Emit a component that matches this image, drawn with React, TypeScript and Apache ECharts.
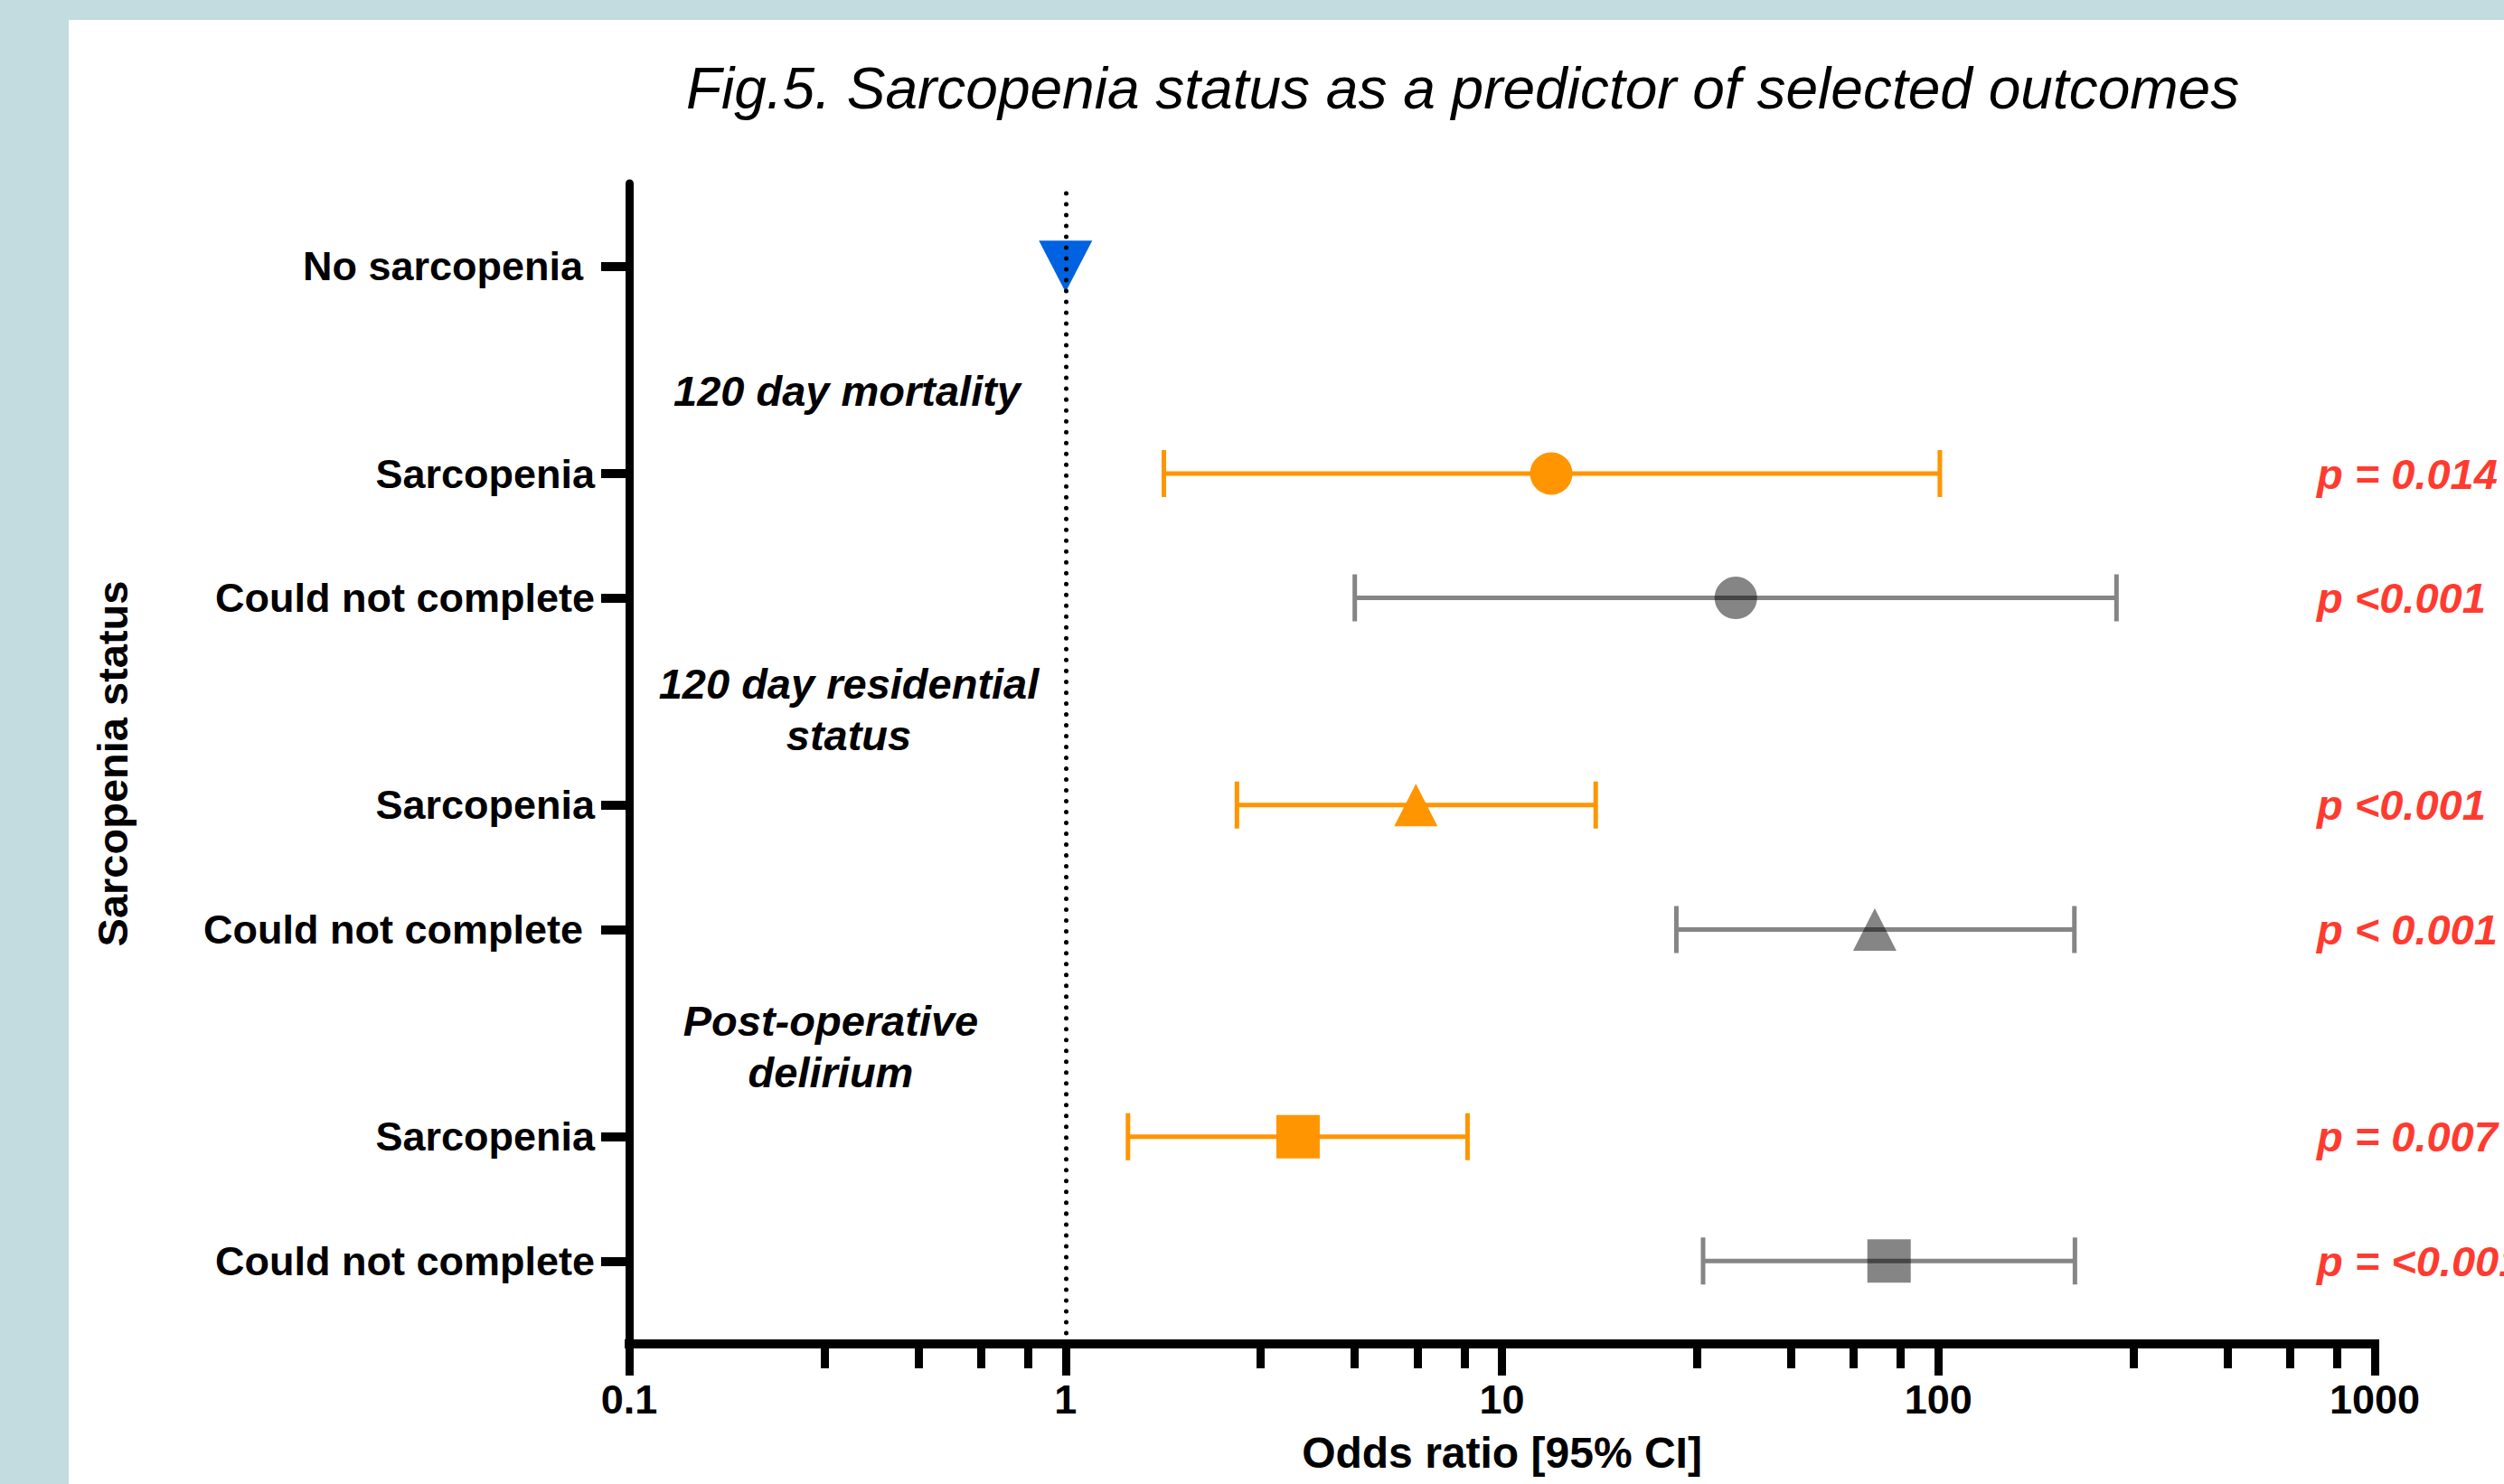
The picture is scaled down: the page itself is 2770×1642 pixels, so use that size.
import React, { useEffect, useRef } from 'react';
import * as echarts from 'echarts';

// ---------- data ----------
const rowLabels = ['No sarcopenia', 'Sarcopenia', 'Could not complete', 'Sarcopenia', 'Could not complete', 'Sarcopenia', 'Could not complete'];
const rowPositions = [26, 21, 18, 13, 10, 5, 2];
const oddsRatio = [1, 12.97, 34.35, 6.35, 71.5, 3.41, 77.1];
const ciLower = [null, 1.68, 4.6, 2.47, 25.1, 1.39, 28.9];
const ciUpper = [null, 100.8, 256, 16.4, 205, 8.34, 205.6];
const pValueLabels = [null, 'p = 0.014', 'p <0.001', 'p <0.001', 'p < 0.001', 'p = 0.007', 'p = <0.001'];
const groupLabels = ['120 day mortality', '120 day residential\nstatus', 'Post-operative\ndelirium'];
const xTickValues = [0.1, 1, 10, 100, 1000];
const xTickLabels = ['0.1', '1', '10', '100', '1000'];
const minorTickFactors = [2.8, 4.6, 6.4, 8.2];
const yRange = [0, 28];
const titleText = 'Fig.5. Sarcopenia status as a predictor of selected outcomes';
const xAxisTitle = 'Odds ratio [95% CI]';
const yAxisTitle = 'Sarcopenia status';

// ---------- styles ----------
const W = 2770;
const H = 1642;
const FONT = '"Liberation Sans", Arial, Helvetica, sans-serif';
const ORANGE = '#FF9500';
const GREY = 'rgba(0,0,0,0.48)';
const BLUE = '#0062E0';
const RED = '#FF3B30';
const BG = '#C2DCDF';
const rowStyles = [
  { symbol: 'triangle', rotate: 180, size: [59, 57], color: BLUE, labelPad: 13 },
  { symbol: 'circle', rotate: 0, size: 47, color: ORANGE, labelPad: 0 },
  { symbol: 'circle', rotate: 0, size: 47, color: GREY, labelPad: 0 },
  { symbol: 'triangle', rotate: 0, size: [48, 47], color: ORANGE, labelPad: 0 },
  { symbol: 'triangle', rotate: 0, size: [48, 47], color: GREY, labelPad: 13 },
  { symbol: 'rect', rotate: 0, size: 48, color: ORANGE, labelPad: 0 },
  { symbol: 'rect', rotate: 0, size: 48, color: GREY, labelPad: 0 },
];
const groupLabelPos = [
  { x: 937, y: 432 },
  { x: 939, y: 785 },
  { x: 919, y: 1158 },
];
const GRID = { left: 696, top: 203, width: 1931, height: 1284 };

export default function App() {
  const ref = useRef<HTMLDivElement>(null);

  useEffect(() => {
    document.body.style.margin = '0';
    document.body.style.overflow = 'hidden';
    const chart = echarts.init(ref.current!, null, { renderer: 'svg', width: W, height: H });

    const minorTicks: number[] = [];
    for (let i = 0; i < xTickValues.length - 1; i++) {
      minorTickFactors.forEach((f) => minorTicks.push(xTickValues[i] * f));
    }

    const errData = rowPositions
      .map((pos, i) => (ciLower[i] != null ? [ciLower[i], ciUpper[i], pos, i] : null))
      .filter(Boolean);

    const markerData = rowPositions.map((pos, i) => ({
      value: [oddsRatio[i], pos],
      symbol: rowStyles[i].symbol,
      symbolSize: rowStyles[i].size,
      symbolRotate: rowStyles[i].rotate,
      itemStyle: { color: rowStyles[i].color, opacity: 1 },
    }));

    const rich: any = {
      n: { fontFamily: FONT, fontWeight: 'bold', fontSize: 45, color: '#000' },
      p: { fontFamily: FONT, fontWeight: 'bold', fontSize: 45, color: '#000', padding: [0, 13, 0, 0] },
    };

    const xLabelFormatter = (v: number) => {
      const i = xTickValues.findIndex((t) => Math.abs(Math.log10(t) - Math.log10(v)) < 1e-6);
      return i >= 0 ? xTickLabels[i] : '';
    };

    const baseGraphics: any[] = [
      {
        id: 'panel', type: 'rect', z: -100, silent: true,
        shape: { x: 76, y: 22, width: W - 76, height: H - 22 },
        style: { fill: '#ffffff' },
      },
      {
        id: 'title', type: 'text', x: 1618, y: 98, z: 10,
        style: {
          text: titleText, fontFamily: FONT, fontStyle: 'italic', fontWeight: 'normal',
          fontSize: 64, fill: '#000', align: 'center', verticalAlign: 'middle',
        },
      },
      ...groupLabels.map((t, i) => ({
        id: 'group' + i, type: 'text', x: groupLabelPos[i].x, y: groupLabelPos[i].y, z: 10,
        style: {
          text: t, fontFamily: FONT, fontStyle: 'italic', fontWeight: 'bold', fontSize: 47,
          lineHeight: 57, fill: '#000', align: 'center', verticalAlign: 'middle',
        },
      })),
    ];

    const option: any = {
      animation: false,
      backgroundColor: BG,
      grid: { ...GRID, containLabel: false },
      xAxis: [
        {
          type: 'log', logBase: 10, min: 0.1, max: 1000, position: 'bottom', offset: 5,
          axisLine: { show: true, lineStyle: { color: '#000', width: 10, cap: 'square' } },
          axisTick: { show: true, length: 35, customValues: xTickValues, lineStyle: { color: '#000', width: 9 } },
          axisLabel: {
            show: true, customValues: xTickValues, formatter: xLabelFormatter, margin: 34,
            fontFamily: FONT, fontWeight: 'bold', fontSize: 45, color: '#000',
          },
          splitLine: { show: false },
          minorTick: { show: false },
          name: xAxisTitle, nameLocation: 'middle', nameGap: 91,
          nameTextStyle: { fontFamily: FONT, fontWeight: 'bold', fontSize: 48, color: '#000' },
        },
        {
          type: 'log', logBase: 10, min: 0.1, max: 1000, position: 'bottom', offset: 5,
          axisLine: { show: false },
          axisTick: { show: true, length: 22, customValues: minorTicks, lineStyle: { color: '#000', width: 9 } },
          axisLabel: { show: false },
          splitLine: { show: false },
        },
      ],
      yAxis: {
        type: 'value', min: yRange[0], max: yRange[1],
        axisLine: { show: true, lineStyle: { color: '#000', width: 9 } },
        axisTick: { show: true, length: 31, customValues: rowPositions, lineStyle: { color: '#000', width: 10 } },
        axisLabel: {
          show: true, customValues: rowPositions, margin: 38,
          formatter: (v: number) => {
            const i = rowPositions.indexOf(Math.round(v));
            if (i < 0) return '';
            return rowStyles[i].labelPad ? `{p|${rowLabels[i]}}` : `{n|${rowLabels[i]}}`;
          },
          rich,
        },
        splitLine: { show: false },
        name: yAxisTitle, nameLocation: 'middle', nameGap: 548, nameRotate: 90,
        nameTextStyle: { fontFamily: FONT, fontWeight: 'bold', fontSize: 47, color: '#000' },
      },
      graphic: baseGraphics,
      series: [
        {
          type: 'custom',
          xAxisIndex: 0,
          z: 2,
          data: errData,
          renderItem: (params: any, api: any) => {
            const lo = api.coord([api.value(0), api.value(2)]);
            const hi = api.coord([api.value(1), api.value(2)]);
            const idx = api.value(3);
            const h = 26;
            return {
              type: 'polyline',
              shape: {
                points: [
                  [lo[0], lo[1] - h], [lo[0], lo[1] + h], [lo[0], lo[1]],
                  [hi[0], hi[1]], [hi[0], hi[1] - h], [hi[0], hi[1] + h],
                ],
              },
              style: { stroke: rowStyles[idx].color, lineWidth: 5, fill: 'none', lineJoin: 'bevel' },
            };
          },
          markLine: {
            silent: true,
            symbol: ['none', 'none'],
            label: { show: false },
            lineStyle: { color: '#000', width: 5, type: [0.01, 12], cap: 'round', opacity: 1 },
            emphasis: { disabled: true },
            data: [{ xAxis: 1 }],
          },
        },
        {
          type: 'scatter',
          xAxisIndex: 0,
          z: 3,
          data: markerData,
          itemStyle: { opacity: 1 },
          emphasis: { disabled: true },
        },
      ],
    };

    chart.setOption(option);

    const pGraphics = pValueLabels
      .map((p, i) => {
        if (!p) return null;
        const py = chart.convertToPixel({ gridIndex: 0 } as any, [1, rowPositions[i]])[1];
        return {
          id: 'p' + i, type: 'text', x: 2563, y: py, z: 10,
          style: {
            text: p, fontFamily: FONT, fontStyle: 'italic', fontWeight: 'bold', fontSize: 47,
            fill: RED, align: 'left', verticalAlign: 'middle',
          },
        };
      })
      .filter(Boolean);

    chart.setOption({ graphic: [...baseGraphics, ...pGraphics] });

    return () => chart.dispose();
  }, []);

  return <div ref={ref} style={{ position: 'fixed', left: 0, top: 0, width: W, height: H }} />;
}
